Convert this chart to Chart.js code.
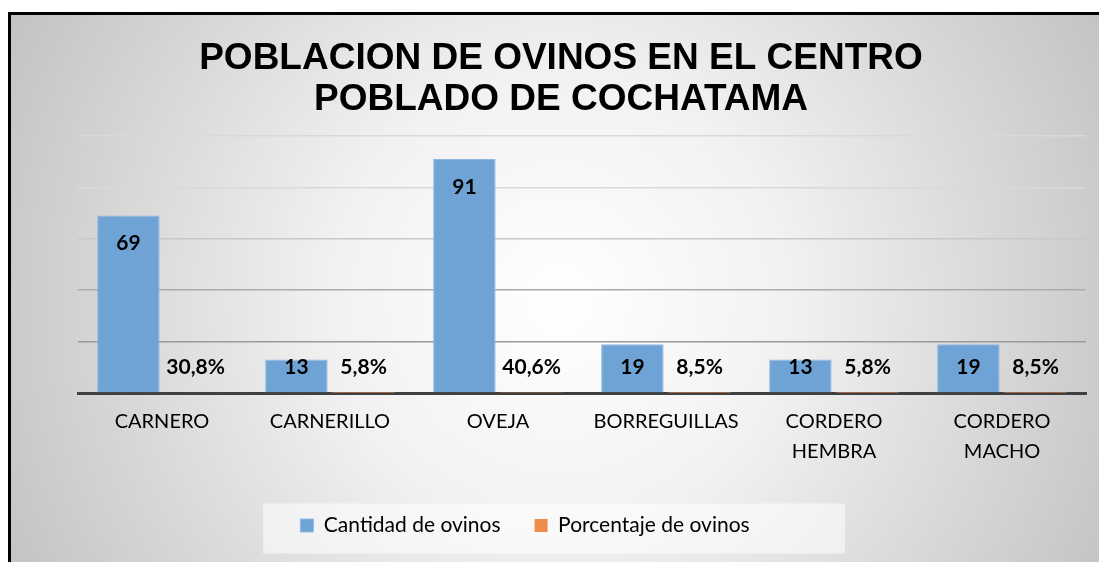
<!DOCTYPE html>
<html>
<head>
<meta charset="utf-8">
<script src="https://cdn.jsdelivr.net/npm/chart.js@4/dist/chart.umd.min.js"></script>
<style>
  html, body { margin: 0; padding: 0; background: #fff; }
  #wrap { position: relative; width: 1099px; height: 562px; }
</style>
</head>
<body>
<div id="wrap"><canvas id="myChart" width="1099" height="562"></canvas></div>
<script>
// Datos del grafico
const categorias = ['CARNERO', 'CARNERILLO', 'OVEJA', 'BORREGUILLAS', ['CORDERO', 'HEMBRA'], ['CORDERO', 'MACHO']];
const cantidadOvinos = [69, 13, 91, 19, 13, 19];
const porcentajeOvinos = [0.308, 0.058, 0.406, 0.085, 0.058, 0.085];
const ticksY = [0, 20, 40, 60, 80, 100];

// Fondo con degradado y marco negro
const fondoPlugin = {
    id: 'fondo',
    afterLayout(chart) {
        // la leyenda del original esta algo corrida a la izquierda
        const lg = chart.legend;
        if (lg) { lg.left -= 36; lg.right -= 36; }
    },
    beforeDraw(chart) {
        const ctx = chart.ctx;
        const w = chart.width, h = chart.height;
        ctx.save();
        ctx.fillStyle = '#fff';
        ctx.fillRect(0, 0, w, h);
        const g = ctx.createRadialGradient(560, 300, 0, 560, 300, 640);
        g.addColorStop(0, '#ffffff');
        g.addColorStop(0.35, '#f2f2f2');
        g.addColorStop(1, '#c0c0c0');
        ctx.fillStyle = g;
        ctx.fillRect(10, 14, w - 10, h - 14);
        ctx.fillStyle = '#000';
        ctx.fillRect(8, 12, w - 8, 3);
        ctx.fillRect(8, 12, 3, h - 12);
        // caja de la leyenda
        const lg = chart.legend;
        if (lg) {
            const cy = lg.top + lg.height / 2;
            ctx.fillStyle = 'rgba(255,255,255,0.55)';
            ctx.fillRect(263, cy - 10, 582, 50);
        }
        ctx.restore();
    }
};

// Etiquetas de datos
const etiquetasPlugin = {
    id: 'etiquetas',
    afterDatasetsDraw(chart) {
        const ctx = chart.ctx;
        const base = chart.scales.y.getPixelForValue(0);
        ctx.save();
        ctx.font = 'bold 21px Lato, "Open Sans", sans-serif';
        ctx.fillStyle = '#000';
        ctx.textAlign = 'center';
        ctx.textBaseline = 'middle';
        chart.data.datasets.forEach((ds, i) => {
            chart.getDatasetMeta(i).data.forEach((bar, j) => {
                const v = ds.data[j];
                const txt = i === 0 ? String(v) : (v * 100).toFixed(1).replace('.', ',') + '%';
                const y = Math.min(bar.y + 28, base - 26);
                ctx.fillText(txt, bar.x, y);
            });
        });
        ctx.restore();
    }
};

function colorGrid(c) {
    const v = c.tick.value;
    if (v === 0) return 'rgba(0,0,0,0)';
    if (v >= 80) return '#d9d9d9';
    if (v >= 60) return '#c8c8c8';
    if (v >= 40) return '#ababab';
    return '#9a9a9a';
}

const ctx = document.getElementById('myChart');
new Chart(ctx, {
    type: 'bar',
    data: {
        labels: categorias,
        datasets: [{
            label: 'Cantidad de ovinos',
            data: cantidadOvinos,
            backgroundColor: '#6fa3d6',
            borderColor: '#8db8e2',
            borderWidth: 1
        }, {
            label: 'Porcentaje de ovinos',
            data: porcentajeOvinos,
            backgroundColor: '#ef8c4b',
            borderWidth: 0
        }]
    },
    options: {
        responsive: false,
        animation: false,
        devicePixelRatio: 1,
        layout: { padding: { left: 36, right: 13, top: 0, bottom: 16 } },
        datasets: { bar: { categoryPercentage: 0.8, barPercentage: 0.93 } },
        scales: {
            x: {
                grid: { display: false },
                border: { display: true, color: '#404040', width: 3 },
                ticks: {
                    color: '#000',
                    font: { family: 'Lato, "Open Sans", sans-serif', size: 20, lineHeight: 1.5 },
                    padding: 6,
                    maxRotation: 0
                },
                afterFit: (axis) => { axis.height += 8; }
            },
            y: {
                min: 0,
                max: 100,
                afterBuildTicks: (axis) => { axis.ticks = ticksY.map(v => ({ value: v })); },
                afterFit: (axis) => { axis.width = 42; },
                ticks: { display: false },
                border: { display: false },
                grid: { color: colorGrid, lineWidth: 1.5, drawTicks: false }
            }
        },
        plugins: {
            title: {
                display: true,
                text: ['POBLACION DE OVINOS EN EL CENTRO', 'POBLADO DE COCHATAMA'],
                color: '#000',
                font: { family: '"Liberation Sans", Arial, sans-serif', size: 37, weight: 'bold', lineHeight: 1.12 },
                padding: { top: 38, bottom: 15 }
            },
            legend: {
                position: 'bottom',
                labels: {
                    color: '#000',
                    boxWidth: 13,
                    boxHeight: 13,
                    padding: 34,
                    font: { family: 'Lato, "Open Sans", sans-serif', size: 21 }
                }
            },
            tooltip: { enabled: false }
        }
    },
    plugins: [fondoPlugin, etiquetasPlugin]
});
</script>
</body>
</html>
